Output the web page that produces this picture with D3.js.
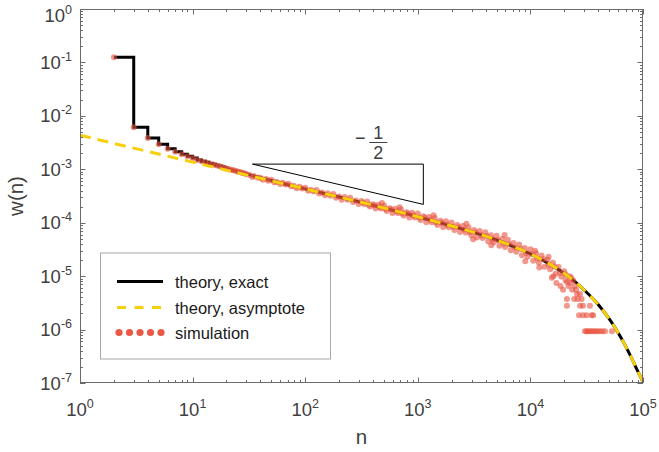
<!DOCTYPE html>
<html>
<head>
<meta charset="utf-8">
<script src="https://cdn.jsdelivr.net/npm/d3@7"></script>
<style>
  body { margin: 0; background: #fff; }
  svg { font-family: "Liberation Sans", Arial, Helvetica, sans-serif; }
</style>
</head>
<body>
<svg id="chart" width="659" height="452"></svg>
<script>
// theory, exact: staircase part (integer n) and smooth tail
const exactStepN = [2, 3, 4, 5, 6, 7, 8, 9, 10, 11, 12, 13, 14, 15, 16, 17, 18, 19, 20];
const exactStepW = [0.125, 6.1e-3, 3.85e-3, 2.95e-3, 2.42e-3, 2.12e-3, 1.91e-3, 1.76e-3, 1.62e-3,
    1.50e-3, 1.42e-3, 1.35e-3, 1.29e-3, 1.24e-3, 1.19e-3, 1.15e-3, 1.11e-3, 1.07e-3, 1.04e-3];
const exactTailN = [20, 25, 30, 40, 50, 70, 100, 200, 500, 1000, 2000, 3000, 5000, 7000, 10000,
    15000, 20000, 25000, 30000, 40000, 50000, 60000, 70000, 80000, 90000, 100000];
const exactTailW = [1.04e-3, 9.1e-4, 8.2e-4, 6.95e-4, 6.15e-4, 5.15e-4, 4.3e-4, 3.03e-4, 1.89e-4, 1.29e-4,
    8.7e-5, 6.8e-5, 4.75e-5, 3.62e-5, 2.61e-5, 1.66e-5, 1.12e-5, 7.8e-6, 5.5e-6, 2.95e-6,
    1.6e-6, 8.8e-7, 4.9e-7, 2.8e-7, 1.65e-7, 1.05e-7];

// theory, asymptote
const asymN = [1, 2, 3, 5, 10, 20, 30, 50, 100, 200, 500, 1000, 2000, 3000, 5000, 7000, 10000,
    15000, 20000, 25000, 30000, 40000, 50000, 60000, 70000, 80000, 90000, 100000];
const asymW = [4.35e-3, 3.05e-3, 2.49e-3, 1.93e-3, 1.36e-3, 9.62e-4, 7.85e-4, 6.08e-4, 4.3e-4, 3.03e-4,
    1.89e-4, 1.29e-4, 8.7e-5, 6.8e-5, 4.75e-5, 3.62e-5, 2.61e-5, 1.66e-5, 1.12e-5, 7.8e-6, 5.5e-6,
    2.95e-6, 1.6e-6, 8.8e-7, 4.9e-7, 2.8e-7, 1.65e-7, 1.05e-7];

// simulation
const simN = [2, 3, 4, 5, 6, 7, 8, 9, 10, 11, 12, 13, 14, 15, 16, 17, 18, 19, 20, 21, 22, 23, 24, 25, 26, 27, 28, 29, 30,
    32, 34, 35, 38, 40, 42, 45, 47, 50, 53, 56, 60, 63, 67, 71, 75, 79, 84, 89, 94,
    100, 106, 112, 119, 126, 133, 141, 150, 158, 168, 178, 188, 200, 211, 224, 237, 251, 266, 282, 299,
    316, 335, 355, 376, 398, 422, 447, 473, 501, 531, 562, 596, 631, 668, 708, 750, 794, 841, 891, 944,
    1000, 1059, 1122, 1189, 1259, 1334, 1413, 1496, 1585, 1679, 1778, 1884, 1995, 2113, 2239, 2371, 2512, 2661, 2818, 2985,
    3162, 3350, 3548, 3758, 3981, 4217, 4467, 4732, 5012, 5309, 5623, 5957, 6310, 6683, 7079, 7499, 7943, 8414, 8913, 9441,
    10000, 10593, 11220, 11885, 12589, 13335, 14125, 14962, 15849, 16788, 17783, 18836, 19953, 21135, 22387,
    325, 365, 410, 460, 516, 579, 649, 729, 818, 917, 1029, 1155, 1296, 1454, 1632, 1831, 2054, 2305, 2586, 2901,
    3255, 3652, 4097, 4597, 5158, 5788, 6494, 7286, 8175, 9173, 10292, 11548, 12957, 14538, 16312, 18302, 20535,
    480, 690, 1380, 2700, 5900, 3100, 4500, 9000, 12000, 16000, 11000, 14500,
    15500, 17000, 18500, 19500, 20500, 21800, 22600, 23500, 24000, 24800, 23000, 25500,
    25900, 27600, 21100, 24500, 26300, 28500, 21100, 27600, 29300, 33800,
    27000, 29300, 31500, 35000, 36000,
    30500, 31500, 32500, 33800, 35000, 36500, 38000, 39500, 41500, 43500, 46000, 53000];
const simW = [0.125, 6.1e-3, 3.85e-3, 2.95e-3, 2.42e-3, 2.12e-3, 1.91e-3, 1.76e-3, 1.62e-3, 1.50e-3,
    1.42e-3, 1.35e-3, 1.29e-3, 1.24e-3, 1.19e-3, 1.15e-3, 1.11e-3, 1.07e-3, 1.04e-3, 1.01e-3,
    9.85e-4, 9.6e-4, 9.35e-4, 9.1e-4, 8.9e-4, 8.7e-4, 8.5e-4, 8.35e-4, 8.2e-4,
    7.82e-4, 7.21e-4, 7.46e-4, 6.92e-4, 6.92e-4, 6.34e-4, 6.59e-4, 6.12e-4, 6.34e-4, 5.75e-4, 5.78e-4,
    5.31e-4, 5.58e-4, 5.19e-4, 5.36e-4, 4.79e-4, 4.92e-4, 4.41e-4, 4.72e-4, 4.36e-4,
    4.53e-4, 3.97e-4, 4.15e-4, 3.84e-4, 4.08e-4, 3.52e-4, 3.66e-4, 3.26e-4, 3.55e-4, 3.20e-4,
    3.46e-4, 2.93e-4, 3.08e-4, 2.70e-4, 3.03e-4, 2.70e-4, 2.94e-4, 2.43e-4, 2.61e-4, 2.24e-4,
    2.55e-4, 2.23e-4, 2.49e-4, 2.01e-4, 2.21e-4, 1.85e-4, 2.16e-4, 1.85e-4, 2.10e-4, 1.66e-4,
    1.87e-4, 1.52e-4, 1.82e-4, 1.52e-4, 1.77e-4, 1.36e-4, 1.57e-4, 1.25e-4, 1.53e-4, 1.25e-4,
    1.49e-4, 1.12e-4, 1.32e-4, 1.02e-4, 1.28e-4, 1.02e-4, 1.22e-4, 9.1e-5, 1.09e-4, 8.32e-5,
    1.06e-4, 8.22e-5, 1.01e-4, 7.33e-5, 9.02e-5, 6.68e-5, 8.69e-5, 6.58e-5, 8.26e-5, 5.83e-5,
    7.33e-5, 5.28e-5, 7.01e-5, 5.18e-5, 6.64e-5, 4.46e-5, 5.83e-5, 4.30e-5, 5.69e-5, 3.72e-5,
    4.97e-5, 3.52e-5, 4.80e-5, 3.06e-5, 4.17e-5, 2.87e-5, 3.90e-5, 2.47e-5, 3.35e-5, 2.30e-5,
    3.17e-5, 1.95e-5, 2.66e-5, 1.79e-5, 2.43e-5, 1.50e-5, 2.03e-5, 1.35e-5, 1.79e-5, 1.11e-5,
    1.49e-5, 9.8e-6, 1.23e-5, 7.78e-6, 1.00e-5,
    2.38e-4, 2.16e-4, 2.13e-4, 1.96e-4, 1.81e-4, 1.78e-4, 1.63e-4, 1.49e-4, 1.48e-4, 1.36e-4,
    1.24e-4, 1.24e-4, 1.12e-4, 1.01e-4, 1.00e-4, 9.16e-5, 8.36e-5, 8.26e-5, 7.43e-5, 6.67e-5,
    6.55e-5, 5.85e-5, 5.66e-5, 4.92e-5, 4.73e-5, 4.08e-5, 3.94e-5, 3.42e-5, 3.27e-5, 2.71e-5,
    2.59e-5, 2.15e-5, 2.07e-5, 1.61e-5, 1.52e-5, 1.16e-5, 1.07e-5,
    2.35e-4, 1.95e-4, 1.38e-4, 9.6e-5, 5.9e-5, 4.9e-5, 3.8e-5, 1.9e-5, 1.45e-5, 1.0e-5, 3.0e-5, 2.3e-5,
    9.3e-6, 7.44e-6, 6.51e-6, 5.58e-6, 8.37e-6, 6.51e-6, 7.44e-6, 5.58e-6, 8.37e-6, 6.51e-6, 9.3e-6, 5.58e-6,
    4.65e-6, 4.65e-6, 3.72e-6, 3.72e-6, 3.72e-6, 3.72e-6, 2.79e-6, 2.79e-6, 2.79e-6, 2.79e-6,
    1.86e-6, 1.86e-6, 1.86e-6, 1.86e-6, 1.86e-6,
    9.3e-7, 9.3e-7, 9.3e-7, 9.3e-7, 9.3e-7, 9.3e-7, 9.3e-7, 9.3e-7, 9.3e-7, 9.3e-7, 9.3e-7, 9.3e-7];

// slope triangle (-1/2)
const triangleN = [34, 1120, 1120];
const triangleW = [1.25e-3, 1.25e-3, 2.2e-4];

const xTickExp = [0, 1, 2, 3, 4, 5];
const yTickExp = [0, -1, -2, -3, -4, -5, -6, -7];
const legendLabels = ["theory, exact", "theory, asymptote", "simulation"];

const margin = { left: 80, top: 9, right: 16, bottom: 69 };
const W = 659, H = 452;
const innerW = W - margin.left - margin.right;
const innerH = H - margin.top - margin.bottom;

const svg = d3.select("#chart");
const x = d3.scaleLog().domain([1, 1e5]).range([margin.left, margin.left + innerW]);
const y = d3.scaleLog().domain([1e-7, 1]).range([margin.top + innerH, margin.top]);

svg.append("defs").append("clipPath").attr("id", "clip")
    .append("rect")
    .attr("x", margin.left).attr("y", margin.top)
    .attr("width", innerW).attr("height", innerH);

const plot = svg.append("g").attr("clip-path", "url(#clip)");

// theory, exact
const stepLine = d3.line().x(d => x(d[0])).y(d => y(d[1])).curve(d3.curveStepAfter);
const smoothLine = d3.line().x(d => x(d[0])).y(d => y(d[1])).curve(d3.curveMonotoneX);

plot.append("path")
    .attr("d", stepLine(d3.zip(exactStepN, exactStepW)))
    .attr("fill", "none").attr("stroke", "#000").attr("stroke-width", 3);
plot.append("path")
    .attr("d", smoothLine(d3.zip(exactTailN, exactTailW)))
    .attr("fill", "none").attr("stroke", "#000").attr("stroke-width", 3);

// simulation
plot.append("g").selectAll("circle")
    .data(d3.zip(simN, simW))
    .join("circle")
    .attr("cx", d => x(d[0]))
    .attr("cy", d => y(d[1]))
    .attr("r", 3)
    .attr("fill", "#e8523f")
    .attr("fill-opacity", 0.6);

// theory, asymptote
plot.append("path")
    .attr("d", smoothLine(d3.zip(asymN, asymW)))
    .attr("fill", "none").attr("stroke", "#f7cf0a").attr("stroke-width", 3)
    .attr("stroke-dasharray", "11,7");

// slope triangle
svg.append("path")
    .attr("d", d3.line().x(d => x(d[0])).y(d => y(d[1]))(d3.zip(triangleN, triangleW)) + "Z")
    .attr("fill", "none").attr("stroke", "#000").attr("stroke-width", 1);

// -1/2 label, placed left of the triangle's right corner
const fx = x(triangleN[1]) - 45;
const frac = svg.append("g").attr("fill", "#404040").attr("font-size", 18);
frac.append("text").attr("x", fx - 18).attr("y", 144).attr("text-anchor", "middle").text("\u2212");
frac.append("text").attr("x", fx).attr("y", 139).attr("text-anchor", "middle").text("1");
frac.append("line").attr("x1", fx - 9).attr("x2", fx + 9).attr("y1", 142.5).attr("y2", 142.5)
    .attr("stroke", "#404040").attr("stroke-width", 1);
frac.append("text").attr("x", fx).attr("y", 159).attr("text-anchor", "middle").text("2");

// ticks
const allX = x.ticks();
const allY = y.ticks();
const isMajor = v => Math.abs(Math.log10(v) - Math.round(Math.log10(v))) < 1e-9;
const ticks = svg.append("g").attr("stroke", "#6b6b6b").attr("stroke-width", 1);
allX.forEach(v => {
    const len = isMajor(v) ? 5.5 : 3;
    const px = Math.round(x(v)) + 0.5;
    ticks.append("line").attr("x1", px).attr("x2", px)
        .attr("y1", margin.top + innerH).attr("y2", margin.top + innerH - len);
    ticks.append("line").attr("x1", px).attr("x2", px)
        .attr("y1", margin.top).attr("y2", margin.top + len);
});
allY.forEach(v => {
    const len = isMajor(v) ? 5.5 : 3;
    const py = Math.round(y(v)) + 0.5;
    ticks.append("line").attr("y1", py).attr("y2", py)
        .attr("x1", margin.left).attr("x2", margin.left + len);
    ticks.append("line").attr("y1", py).attr("y2", py)
        .attr("x1", margin.left + innerW).attr("x2", margin.left + innerW - len);
});

// box
svg.append("rect")
    .attr("x", margin.left + 0.5).attr("y", margin.top + 0.5)
    .attr("width", innerW - 1).attr("height", innerH - 1)
    .attr("fill", "none").attr("stroke", "#6b6b6b").attr("stroke-width", 1);

// tick labels
const labels = svg.append("g").attr("fill", "#404040").attr("font-size", 18.5);
xTickExp.forEach(e => {
    const t = labels.append("text")
        .attr("x", x(Math.pow(10, e))).attr("y", margin.top + innerH + 33)
        .attr("text-anchor", "middle");
    t.append("tspan").text("10");
    t.append("tspan").attr("dy", -8).attr("font-size", 12.5).text(e);
});
yTickExp.forEach(e => {
    // the top label sits a little lower so its exponent stays inside the picture
    const shift = e === 0 ? 6 : 0;
    const t = labels.append("text")
        .attr("x", margin.left - 8).attr("y", y(Math.pow(10, e)) + 6.5 + shift)
        .attr("text-anchor", "end");
    t.append("tspan").text("10");
    t.append("tspan").attr("dy", -8).attr("font-size", 12.5).text(e === 0 ? "0" : "-" + Math.abs(e));
});

// axis labels
svg.append("text")
    .attr("x", margin.left + innerW / 2).attr("y", 444)
    .attr("text-anchor", "middle").attr("font-size", 20.5).attr("fill", "#404040")
    .text("n");
svg.append("text")
    .attr("transform", `translate(23, ${margin.top + innerH / 2}) rotate(-90)`)
    .attr("text-anchor", "middle").attr("font-size", 20.5).attr("fill", "#404040")
    .text("w(n)");

// legend
const legend = svg.append("g").attr("transform", "translate(100, 252.5)");
legend.append("rect")
    .attr("x", 0.5).attr("y", 0.5).attr("width", 230).attr("height", 106)
    .attr("fill", "#fff").attr("stroke", "#a8a8a8").attr("stroke-width", 1);

const rowY = [29, 55, 80];
legend.append("line")
    .attr("x1", 17).attr("x2", 63).attr("y1", rowY[0]).attr("y2", rowY[0])
    .attr("stroke", "#000").attr("stroke-width", 3);
legend.append("line")
    .attr("x1", 17).attr("x2", 63).attr("y1", rowY[1]).attr("y2", rowY[1])
    .attr("stroke", "#f7cf0a").attr("stroke-width", 3).attr("stroke-dasharray", "9,8.5");
legend.append("g").selectAll("circle")
    .data([0, 1, 2, 3, 4])
    .join("circle")
    .attr("cx", i => 19 + i * 10.5)
    .attr("cy", rowY[2])
    .attr("r", 3.6)
    .attr("fill", "#ec5846");

legend.selectAll("text.lbl")
    .data(legendLabels)
    .join("text")
    .attr("class", "lbl")
    .attr("x", 75)
    .attr("y", (d, i) => rowY[i] + 6)
    .attr("font-size", 16.5)
    .attr("fill", "#1a1a1a")
    .text(d => d);
</script>
</body>
</html>
